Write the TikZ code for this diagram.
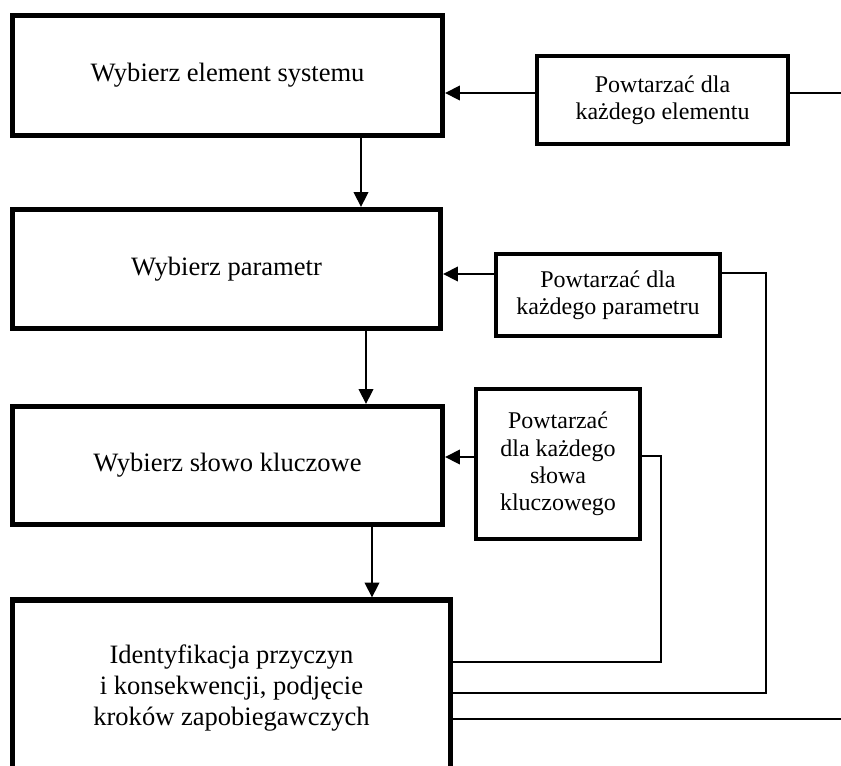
\documentclass[tikz,border=0pt]{standalone}
\usepackage{fontspec}
\setmainfont{Liberation Serif}
\usetikzlibrary{arrows.meta}

\begin{document}
\begin{tikzpicture}[x=0.75pt, y=-0.75pt,
    mainbox/.style={draw, line width=4pt, inner sep=0pt, align=center,
      font=\fontsize{19.9}{22.9}\selectfont},
    repbox/.style={draw, line width=3.5pt, inner sep=0pt, align=center,
      font=\fontsize{18}{20.5}\selectfont},
    arr/.style={line width=1.1pt, -{Triangle[length=11pt,width=11pt]}},
    loopline/.style={line width=0.9pt}]
  \useasboundingbox (0,0) rectangle (841,765);
  \clip (0,0) rectangle (841,765);

  % main steps
  \node[mainbox, minimum width=322.5pt, minimum height=90pt] (elem) at (227.5,75.5) {Wybierz element systemu};
  \node[mainbox, minimum width=321pt, minimum height=89.25pt] (param) at (226.5,269) {Wybierz parametr};
  \node[mainbox, minimum width=322.5pt, minimum height=88.5pt] (slowo) at (227.5,465.5) {Wybierz słowo kluczowe};
  \node[mainbox, minimum width=328.5pt, minimum height=132pt] (ident) at (231.5,688) {Identyfikacja przyczyn\\i konsekwencji, podjęcie\\kroków zapobiegawczych};

  % repeat boxes
  \node[repbox, minimum width=188.25pt, minimum height=66pt] (repElem) at (662.5,100) {Powtarzać dla\\każdego elementu};
  \node[repbox, minimum width=168pt, minimum height=61.5pt] (repParam) at (608,295) {Powtarzać dla\\każdego parametru};
  \node[repbox, minimum width=123pt, minimum height=112.5pt] (repSlowo) at (558,464) {Powtarzać\\dla każdego\\słowa\\kluczowego};

  \coordinate (outTop) at (841,93);
  \coordinate (outBot) at (841,719);

  % flow down
  \draw[arr] (elem.south -| 361,0) -- (param.north -| 361,0);
  \draw[arr] (param.south -| 366,0) -- (slowo.north -| 366,0);
  \draw[arr] (slowo.south -| 372,0) -- (ident.north -| 372,0);

  % back to the steps
  \draw[arr] (repElem.west |- 0,93) -- (elem.east |- 0,93);
  \draw[arr] (repParam.west |- 0,274) -- (param.east |- 0,274);
  \draw[arr] (repSlowo.west |- 0,457) -- (slowo.east |- 0,457);

  % loops
  \draw[line width=1.1pt] (repElem.east |- outTop) -- (outTop);
  \draw[loopline] (repParam.east |- 0,273) -- (766,273) |- (ident.east |- 0,693);
  \draw[loopline] (repSlowo.east |- 0,456) -- (661,456) |- (ident.east |- 0,662);
  \draw[loopline] (ident.east |- outBot) -- (outBot);
\end{tikzpicture}
\end{document}
